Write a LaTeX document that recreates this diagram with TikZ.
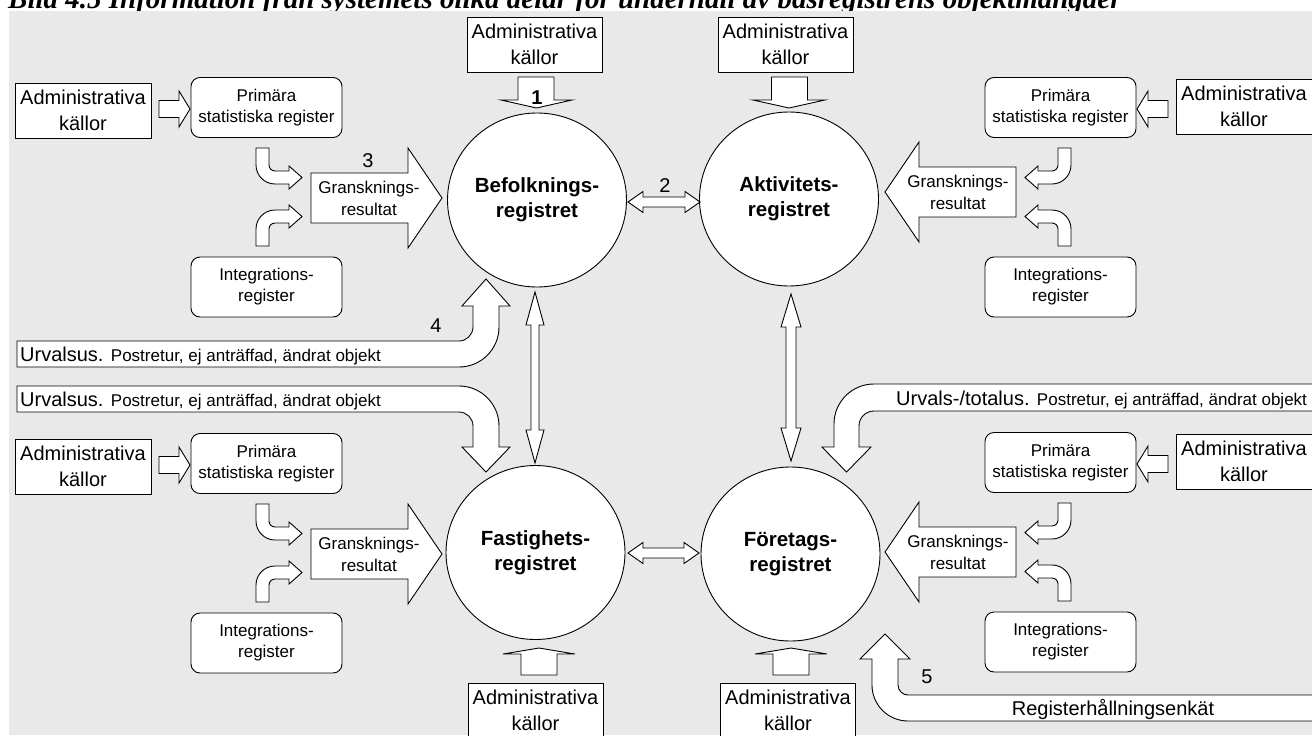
\documentclass[tikz,border=0pt]{standalone}
\usepackage{fontspec}
\setmainfont{Liberation Sans}
\newfontfamily\titlefont{Liberation Serif}
\usetikzlibrary{shapes.geometric,calc}
\definecolor{panel}{RGB}{233,233,233}

\tikzset{
  outline/.style={draw=black, line width=0.9pt, fill=white, line join=miter},
  admbox/.style={outline, rectangle, minimum width=136pt, minimum height=55pt, inner sep=0pt,
    align=center, font=\fontsize{20}{26}\selectfont},
  regbox/.style={outline, rectangle, rounded corners=9pt, minimum width=151pt, minimum height=60pt,
    inner sep=0pt, align=center, font=\fontsize{17}{21}\selectfont},
  basreg/.style={outline, ellipse, minimum width=179pt, minimum height=174pt, inner sep=0pt,
    align=center, font=\fontsize{20.5}{25}\selectfont\bfseries},
  smalltxt/.style={font=\fontsize{17}{22}\selectfont, align=center, inner sep=0pt},
  numlbl/.style={font=\fontsize{20}{24}\selectfont, inner sep=0pt, anchor=base},
  bandtxt/.style={inner sep=0pt, anchor=base west},
  titletxt/.style={inner sep=0pt, anchor=base west,
    font=\titlefont\bfseries\itshape\fontsize{29}{33}\selectfont},
}

% One group of feeding registers: source -> primary register, review result, integration register.
% #1 name prefix, #2 vertical offset of the source box, #3 vertical offset of the review arrow
\newcommand{\sidegroup}[3]{%
  \begin{scope}[shift={(0,#2)}]
    \node[admbox] (#1adm) at (83,466.5) {Administrativa\\källor};
  \end{scope}
  \node[regbox] (#1prim) at (266.5,463.5) {Primära\\statistiska register};
  \node[regbox] (#1integ) at (266.5,643) {Integrations-\\register};
  % source -> primary register
  \draw[outline] (159,456.5) -- (179,456.5) -- (179,447) -- (190,465) -- (179,483)
    -- (179,473.5) -- (159,473.5) -- cycle;
  % primary register -> review result
  \draw[outline] (256,504) -- (269,504) -- (269,521) .. controls (269,524.3) and (271.7,527) .. (275,527)
    -- (289,527) -- (289,522) -- (302,533.5) -- (289,545) -- (289,540) -- (275,540)
    .. controls (264.5,540) and (256,531.5) .. (256,521) -- cycle;
  % integration register -> review result
  \draw[outline] (256,602) -- (256,585) .. controls (256,574.5) and (264.5,566) .. (275,566)
    -- (289,566) -- (289,561) -- (302,572.5) -- (289,584) -- (289,579) -- (275,579)
    .. controls (271.7,579) and (269,581.7) .. (269,585) -- (269,602) -- cycle;
  % review result -> base register
  \begin{scope}[shift={(0,#3)}]
    \draw[outline] (311,529) -- (408,529) -- (408,504) -- (442,554) -- (408,604) -- (408,579)
      -- (311,579) -- cycle;
    \node[smalltxt] (#1gr) at (369,554) {Gransknings-\\resultat};
  \end{scope}
}

\begin{document}
\begin{tikzpicture}[x=1pt,y=-1pt]
\useasboundingbox (0,0) rectangle (1312,736);
\clip (0,0) rectangle (1312,736);

\node[titletxt] (title) at (8,9) {Bild 4.5 Information från systemets olika delar för underhåll av basregistrens objektmängder};
\fill[panel] (9,11) rectangle (1312,735);

% the four base registers
\node[basreg] (bef) at (537,200) {Befolknings-\\registret};
\node[basreg] (akt) at (789,199) {Aktivitets-\\registret};
\node[basreg] (fas) at (535.5,552.5) {Fastighets-\\registret};
\node[basreg] (for) at (790.5,554) {Företags-\\registret};

% administrative sources above and below
\node[admbox, minimum width=135pt] (admB) at (534.5,44.5) {Administrativa\\källor};
\node[admbox, minimum width=135pt] (admA) at (785.5,44.5) {Administrativa\\källor};
\node[admbox, minimum width=135pt] (admF) at (535.5,710.5) {Administrativa\\källor};
\node[admbox, minimum width=135pt] (admFo) at (788,710.5) {Administrativa\\källor};

\draw[outline] (518,77) -- (554,77) -- (554,100) -- (572,100) -- (536.5,108) -- (501,100)
  -- (518,100) -- cycle;
\draw[outline] (771.5,77) -- (807.5,77) -- (807.5,100) -- (825,100) -- (789,108) -- (753,100)
  -- (771.5,100) -- cycle;
\draw[outline] (521,675) -- (557,675) -- (557,654) -- (575,654) -- (539,648) -- (503,654)
  -- (521,654) -- cycle;
\draw[outline] (773,675) -- (809,675) -- (809,654) -- (827,654) -- (791,648) -- (755,654)
  -- (773,654) -- cycle;

% exchanges between the base registers
\draw[outline] (628,202) -- (643,191.5) -- (643,197) -- (685,197) -- (685,191.5) -- (700,202)
  -- (685,212.5) -- (685,207) -- (643,207) -- (643,212.5) -- cycle;
\draw[outline] (628,553) -- (643,542.5) -- (643,548) -- (684,548) -- (684,542.5) -- (699,553)
  -- (684,563.5) -- (684,558) -- (643,558) -- (643,563.5) -- cycle;
\draw[outline] (535,292) -- (544,325) -- (539,325) -- (539,430) -- (544,430) -- (535,463)
  -- (526,430) -- (531,430) -- (531,325) -- (526,325) -- cycle;
\draw[outline] (791,294) -- (801,327) -- (796,327) -- (796,428) -- (801,428) -- (791,461)
  -- (781,428) -- (786,428) -- (786,327) -- (781,327) -- cycle;

% feeding groups
\begin{scope}[shift={(0,-356)}]
  \sidegroup{tl}{0}{0}
\end{scope}
\sidegroup{bl}{0}{0}
\begin{scope}[shift={(1327,-356)}, xscale=-1]
  \sidegroup{tr}{-4}{-6}
\end{scope}
\begin{scope}[shift={(1327,-1)}, xscale=-1]
  \sidegroup{br}{-4}{-1}
\end{scope}

% survey feedback bands
\draw[outline] (17,341) -- (459,341) .. controls (466.7,341) and (473,334.7) .. (473,327)
  -- (473,306) -- (462,306) -- (486,279) -- (510,306) -- (499,306) -- (499,327)
  .. controls (499,349.1) and (481.1,367) .. (459,367) -- (17,367) -- cycle;
\node[bandtxt] (urv1) at (20,361) {\fontsize{20}{24}\selectfont Urvalsus. \fontsize{17}{20}\selectfont Postretur, ej anträffad, ändrat objekt};

\draw[outline] (17,386) -- (459,386) .. controls (481.1,386) and (499,403.9) .. (499,426)
  -- (499,447) -- (510,447) -- (486,472) -- (462,447) -- (473,447) -- (473,426)
  .. controls (473,418.3) and (466.7,412) .. (459,412) -- (17,412) -- cycle;
\node[bandtxt] (urv2) at (20,406) {\fontsize{20}{24}\selectfont Urvalsus. \fontsize{17}{20}\selectfont Postretur, ej anträffad, ändrat objekt};

\draw[outline] (1320,384) -- (874,384) .. controls (851.9,384) and (834,401.9) .. (834,424)
  -- (834,447) -- (822,447) -- (846.5,472) -- (871,447) -- (859,447) -- (859,426)
  .. controls (859,417.7) and (865.7,411) .. (874,411) -- (1320,411) -- cycle;
\node[bandtxt] (urv3) at (896,405) {\fontsize{20}{24}\selectfont Urvals-/totalus. \fontsize{17}{20}\selectfont Postretur, ej anträffad, ändrat objekt};

\draw[outline] (1320,695) -- (908,695) .. controls (902.5,695) and (898,690.5) .. (898,685)
  -- (898,659) -- (910,659) -- (885,634) -- (860,659) -- (872,659) -- (872,685)
  .. controls (872,704.9) and (888.1,721) .. (908,721) -- (1320,721) -- cycle;
\node[inner sep=0pt, anchor=base, font=\fontsize{20}{24}\selectfont] (enk) at (1113,715) {Registerhållningsenkät};

% step numbers
\node[numlbl, font=\fontsize{20}{24}\selectfont\bfseries] (n1) at (537,104) {1};
\node[numlbl] (n2) at (665,192) {2};
\node[numlbl] (n3) at (368,167) {3};
\node[numlbl] (n4) at (436,332) {4};
\node[numlbl] (n5) at (927,683) {5};
\end{tikzpicture}
\end{document}
